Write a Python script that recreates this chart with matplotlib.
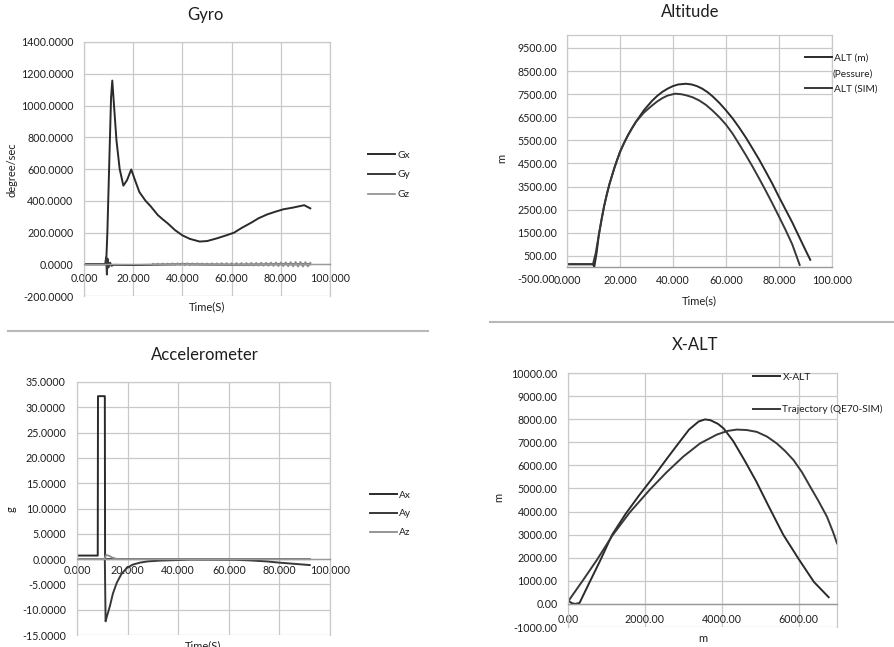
import matplotlib
matplotlib.use("Agg")
import matplotlib.pyplot as plt
from matplotlib.ticker import FormatStrFormatter
from matplotlib.lines import Line2D
import numpy as np

plt.rcParams['font.family'] = ['Lato', 'DejaVu Sans']

# ---------------- data ----------------
# Gyro
gx_t = [0, 9.0, 9.5, 10.2, 11.0, 11.5, 12.2, 13.2, 14.5, 16.0, 17.5, 19.2, 20.5, 22.5, 25, 27,
        30, 32, 34, 37, 40, 43, 47, 50, 54, 58, 61, 64, 68, 71, 74.5, 78, 81, 85, 88, 89.5, 91, 92]
gx_v = [0, 0, 200, 600, 1050, 1157, 1000, 780, 600, 495, 530, 597, 540, 455, 400, 367,
        310, 283, 258, 215, 182, 160, 143, 146, 163, 183, 199, 228, 262, 290, 314, 332, 346, 357, 367, 372, 360, 352]
gy_t = [0, 8.6, 9.0, 9.3, 9.6, 10.0, 10.6, 11.2, 12, 20, 30, 40, 50, 60, 70, 80, 92]
gy_v = [0, 0, 45, -65, 35, -20, 10, -10, -4, -5, -3, 0, -2, -3, -2, 0, 0]
gz_t = np.arange(28, 93, 1.0)
gz_v = [3, -3, 4, -4, 5, -5, 5, -5, 6, -6, 6, -6, 7, -7, 7, -7, 6, -6, 6, -6,
        5, -5, 5, -5, 6, -6, 6, -6, 7, -7, 7, -7, 7, -7, 8, -8, 8, -8, 8, -8,
        9, -9, 9, -9, 10, -10, 10, -10, 11, -11, 12, -12, 12, -12, 13, -13, 14, -14,
        15, -15, 15, -15, 14, -14, 10]

# Altitude
altp_t = [0, 9.8, 10.3, 11.2, 12, 13, 14, 15, 16, 17, 18, 19, 20, 21.5, 23, 24.5, 26, 29,
          32, 34, 36, 38, 40, 42, 44.9, 47, 49, 51, 53, 55, 57.5, 60, 62.5, 65, 67.5, 70,
          72.5, 75, 77.5, 80, 82.5, 85, 87.5, 90, 91.8]
altp_v = [140, 140, 30, 650, 1400, 2050, 2650, 3150, 3600, 3980, 4350, 4680, 5000, 5380, 5720,
          6020, 6300, 6800, 7200, 7420, 7600, 7740, 7850, 7920, 7950, 7920, 7850, 7740, 7590,
          7400, 7120, 6800, 6450, 6050, 5620, 5150, 4670, 4150, 3620, 3050, 2500, 1950, 1350,
          750, 330]
alts_t = [0, 9.8, 10.8, 12, 13, 14, 15, 16, 17, 18, 19, 20, 21.5, 23, 24.5, 26, 29, 32, 34,
          36, 38, 40.8, 43, 45, 47.5, 50, 52.5, 55, 57.5, 60, 62.5, 65, 67.5, 70, 72.5, 75,
          77.5, 80, 82.5, 85, 87.8]
alts_v = [140, 140, 600, 1400, 2050, 2650, 3150, 3600, 3980, 4350, 4680, 5000, 5380, 5720,
          6020, 6300, 6700, 7000, 7180, 7330, 7440, 7520, 7500, 7450, 7360, 7220, 7030, 6780,
          6500, 6180, 5790, 5330, 4860, 4370, 3850, 3320, 2770, 2200, 1620, 1000, 110]

# Accelerometer
ax_t = [0, 8.2, 8.3, 11.0, 11.1, 92]
ax_v = [0.7, 0.7, 32.2, 32.2, 0.0, 0.0]
ay_t = [0, 11.0, 11.3, 12.0, 13.0, 14.2, 15.7, 17.5, 19.6, 22, 24.9, 28, 32.8, 45, 61.8, 68,
        75, 80, 85, 92]
ay_v = [0.0, 0.0, -12.3, -11.0, -9.3, -6.8, -4.7, -3.0, -1.8, -1.1, -0.7, -0.45, -0.3, -0.1,
        -0.13, -0.25, -0.46, -0.7, -0.9, -1.18]
az_t = [0, 10.8, 11.5, 12.5, 14.0, 16.0, 92]
az_v = [0.0, 0.0, 0.8, 0.7, 0.3, 0.0, 0.0]

# X-ALT
xalt_x = [0, 90, 180, 300, 550, 830, 1150, 1500, 1850, 2200, 2600, 2850, 3150, 3400, 3565,
          3700, 3900, 4050, 4300, 4600, 4900, 5200, 5600, 6000, 6400, 6783]
xalt_v = [150, 40, 0, 40, 900, 1850, 3000, 3900, 4700, 5450, 6350, 6900, 7550, 7900, 7990,
          7960, 7800, 7600, 7050, 6200, 5300, 4300, 3000, 1950, 950, 290]
sim_x = [0, 400, 750, 1150, 1600, 2130, 2565, 3000, 3435, 3870, 4150, 4391, 4650, 4913, 5175,
         5435, 5650, 5870, 6090, 6304, 6520, 6739, 6900, 7000]
sim_v = [100, 1050, 1900, 2950, 3950, 4950, 5700, 6380, 6950, 7330, 7490, 7550, 7530, 7450,
         7250, 6946, 6620, 6225, 5700, 5072, 4450, 3776, 3100, 2623]

time_ticks = [0, 20, 40, 60, 80, 100]
gyro_yticks = list(range(-200, 1401, 200))
alt_yticks = list(range(500, 9501, 1000))
acc_yticks = list(range(-15, 36, 5))
xalt_xticks = [0, 2000, 4000, 6000]
xalt_yticks = list(range(-1000, 10001, 1000))

# ---------------- style ----------------
W, H = 895, 647
GRID = '#c9c9c9'
AXIS = '#9a9a9a'
TXT = '#1e1e1e'
DARK = '#2a2a2a'
DARK2 = '#383838'
LIGHT = '#8c8c8c'
TICK_FS = 7.7
LEG_FS = 7.3
LAB_FS = 8

fig = plt.figure(figsize=(W / 100, H / 100), dpi=100)
fig.patch.set_facecolor('white')


def rect(l, t, r, b):
    return [l / W, 1 - b / H, (r - l) / W, (b - t) / H]


def style(ax, xlim, ylim, xticks, yticks, xfmt, yfmt, zero_axis, xpad, ypad):
    ax.set_xlim(xlim)
    ax.set_ylim(ylim)
    ax.set_xticks(xticks)
    ax.set_yticks(yticks)
    ax.xaxis.set_major_formatter(FormatStrFormatter(xfmt))
    ax.yaxis.set_major_formatter(FormatStrFormatter(yfmt))
    ax.grid(True, color=GRID, lw=0.9)
    ax.set_axisbelow(True)
    for s in ['left', 'right', 'top']:
        ax.spines[s].set_color(GRID)
        ax.spines[s].set_linewidth(0.9)
    if zero_axis:
        ax.spines['bottom'].set_position(('data', 0))
    ax.spines['bottom'].set_color(AXIS)
    ax.spines['bottom'].set_linewidth(1.0)
    ax.tick_params(axis='both', length=0, labelsize=TICK_FS, colors=TXT)
    ax.tick_params(axis='x', pad=xpad)
    ax.tick_params(axis='y', pad=ypad)


def title(text, x, y):
    fig.text(x / W, 1 - y / H, text, ha='center', va='center', fontsize=12, color=TXT)


def legend(ax, labels, x, y, spacing):
    lg = ax.legend(labels=labels, loc='upper left',
                   bbox_to_anchor=(x / W, 1 - (y - 6.5) / H), bbox_transform=fig.transFigure,
                   frameon=False, fontsize=LEG_FS, handlelength=2.7, handletextpad=0.2,
                   borderpad=0, borderaxespad=0, labelspacing=spacing, labelcolor=TXT)
    return lg


# ---- Gyro ----
a1 = fig.add_axes(rect(84, 42, 330, 296))
style(a1, (0, 100), (-200, 1400), time_ticks, gyro_yticks, '%.3f', '%.4f', True, 6.5, 7.5)
a1.plot(gx_t, gx_v, color=DARK, lw=1.4, label='Gx')
a1.plot(gy_t, gy_v, color=DARK2, lw=1.4, label='Gy')
a1.plot(gz_t, gz_v, color=LIGHT, lw=1.2, label='Gz')
a1.set_xlabel('Time(S)', fontsize=LAB_FS, color=TXT)
a1.xaxis.set_label_coords(0.5, -0.022)
a1.set_ylabel('degree/sec', fontsize=LAB_FS, color=TXT)
a1.yaxis.set_label_coords(-0.272, 0.496)
legend(a1, ['Gx', 'Gy', 'Gz'], 368, 157, 1.05)
title('Gyro', 205, 15)

# ---- Altitude ----
a2 = fig.add_axes(rect(567, 35, 832, 267))
style(a2, (0, 100), (20, 10060), time_ticks, alt_yticks, '%.3f', '%.2f', False, 5.5, 7)
a2.plot(altp_t, altp_v, color=DARK, lw=1.4, label='ALT (m)')
a2.plot(alts_t, alts_v, color=DARK2, lw=1.4, label='ALT (SIM)')
a2.text(-0.047, -500, '-500.00', transform=a2.get_yaxis_transform(), ha='right', va='center',
        fontsize=TICK_FS, color=TXT, clip_on=False)
a2.set_xlabel('Time(s)', fontsize=LAB_FS, color=TXT)
a2.xaxis.set_label_coords(0.5, -0.12)
a2.set_ylabel('m', fontsize=LAB_FS, color=TXT)
a2.yaxis.set_label_coords(-0.226, 0.47)
legend(a2, ['ALT (m)', 'ALT (SIM)'], 805, 60, 2.15)
fig.text(833 / W, 1 - 74 / H, '(Pessure)', ha='left', va='center', fontsize=LEG_FS, color=TXT)
title('Altitude', 690, 12)

# ---- Accelerometer ----
a3 = fig.add_axes(rect(77, 382, 330, 635))
style(a3, (0, 100), (-15, 35), time_ticks, acc_yticks, '%.3f', '%.4f', True, 4.5, 8)
a3.plot(ax_t, ax_v, color=DARK, lw=1.4, label='Ax')
a3.plot(ay_t, ay_v, color=DARK2, lw=1.4, label='Ay')
a3.plot(az_t, az_v, color=LIGHT, lw=1.3, label='Az')
a3.set_xlabel('Time(S)', fontsize=LAB_FS, color=TXT)
a3.xaxis.set_label_coords(0.5, -0.022)
a3.set_ylabel('g', fontsize=LAB_FS, color=TXT)
a3.yaxis.set_label_coords(-0.237, 0.498)
legend(a3, ['Ax', 'Ay', 'Az'], 370, 497, 0.95)
title('Accelerometer', 205, 355)

# ---- X-ALT ----
a4 = fig.add_axes(rect(568, 373, 837, 627))
style(a4, (0, 7000), (-1000, 10000), xalt_xticks, xalt_yticks, '%.2f', '%.2f', True, 7.5, 7.5)
a4.plot(xalt_x, xalt_v, color=DARK, lw=1.4, label='X-ALT')
a4.plot(sim_x, sim_v, color=DARK2, lw=1.4, label='Trajectory (QE70-SIM)')
a4.set_xlabel('m', fontsize=LAB_FS, color=TXT)
a4.xaxis.set_label_coords(0.5, -0.022)
a4.set_ylabel('m', fontsize=LAB_FS, color=TXT)
a4.yaxis.set_label_coords(-0.238, 0.512)
legend(a4, ['X-ALT', 'Trajectory (QE70-SIM)'], 753, 379, 2.3)
title('X-ALT', 695, 345)

# separator lines
fig.add_artist(Line2D([8 / W, 428 / W], [1 - 331 / H] * 2, color='#b8b8b8', lw=1.5))
fig.add_artist(Line2D([490 / W, 895 / W], [1 - 322 / H] * 2, color='#b8b8b8', lw=1.5))

fig.savefig('out.png', dpi=100)
